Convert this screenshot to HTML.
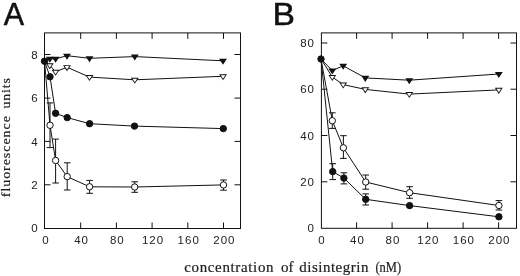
<!DOCTYPE html>
<html><head><meta charset="utf-8"><title>figure</title>
<style>
html,body{margin:0;padding:0;background:#fff;}
body{width:520px;height:276px;overflow:hidden;}
svg{display:block;filter:grayscale(1);}
.t text{font-family:"Liberation Sans",sans-serif;font-size:11.5px;fill:#222;letter-spacing:1.0px;}
.big{font-family:"Liberation Sans",sans-serif;font-size:32px;fill:#111;stroke:#111;stroke-width:0.5px;}
.lab{font-family:"Liberation Serif",serif;fill:#222;stroke:#222;stroke-width:0.2px;}
</style></head><body>
<svg width="520" height="276" viewBox="0 0 520 276">
<rect width="520" height="276" fill="#fff"/>
<g shape-rendering="geometricPrecision">
<rect x="44.5" y="32.9" width="196.0" height="195.6" fill="none" stroke="#111" stroke-width="1"/><path d="M80.7,228.5v-6M80.7,32.9v6M116.4,228.5v-6M116.4,32.9v6M152.1,228.5v-6M152.1,32.9v6M187.8,228.5v-6M187.8,32.9v6M223.5,228.5v-6M223.5,32.9v6M44.5,184.8h6M240.5,184.8h-6M44.5,141.4h6M240.5,141.4h-6M44.5,98.1h6M240.5,98.1h-6M44.5,54.5h6M240.5,54.5h-6" stroke="#111" stroke-width="1" fill="none"/>
<rect x="321.4" y="32.9" width="195.10000000000002" height="195.4" fill="none" stroke="#111" stroke-width="1"/><path d="M356.6,228.3v-6M356.6,32.9v6M392.1,228.3v-6M392.1,32.9v6M427.6,228.3v-6M427.6,32.9v6M463.1,228.3v-6M463.1,32.9v6M498.6,228.3v-6M498.6,32.9v6M321.4,181.8h6M516.5,181.8h-6M321.4,135.5h6M516.5,135.5h-6M321.4,89.2h6M516.5,89.2h-6M321.4,43.0h6M516.5,43.0h-6" stroke="#111" stroke-width="1" fill="none"/>
<polyline points="44.5,61.0 49.8,58.8 55.6,58.8 67.0,55.7 89.5,58.3 134.8,56.6 223.0,60.8" fill="none" stroke="#111" stroke-width="1"/>
<polyline points="44.5,61.0 49.8,65.3 55.6,71.8 67.0,67.2 89.5,77.1 134.8,79.8 223.0,76.3" fill="none" stroke="#111" stroke-width="1"/>
<polyline points="44.5,61.2 50.0,76.8 55.6,113.3 67.2,117.6 89.6,123.7 134.5,126.1 223.3,128.6" fill="none" stroke="#111" stroke-width="1"/>
<polyline points="44.5,61.0 50.0,125.3 55.6,160.5 67.2,176.6 89.6,186.8 134.7,187.0 223.5,184.9" fill="none" stroke="#111" stroke-width="1"/>
<path d="M50.0,102.9V147.6M46.7,102.9H53.3M46.7,147.6H53.3" stroke="#111" stroke-width="1" fill="none"/>
<path d="M55.6,139.1V183.0M52.3,139.1H58.9M52.3,183.0H58.9" stroke="#111" stroke-width="1" fill="none"/>
<path d="M67.2,162.8V190.0M63.9,162.8H70.5M63.9,190.0H70.5" stroke="#111" stroke-width="1" fill="none"/>
<path d="M89.6,180.4V193.3M86.3,180.4H92.9M86.3,193.3H92.9" stroke="#111" stroke-width="1" fill="none"/>
<path d="M134.7,181.8V192.3M131.4,181.8H138.0M131.4,192.3H138.0" stroke="#111" stroke-width="1" fill="none"/>
<path d="M223.5,180.0V190.2M220.2,180.0H226.8M220.2,190.2H226.8" stroke="#111" stroke-width="1" fill="none"/>
<polygon points="45.85,56.75 53.75,56.75 49.80,62.80" fill="#111"/>
<polygon points="51.65,56.75 59.55,56.75 55.60,62.80" fill="#111"/>
<polygon points="63.05,53.65 70.95,53.65 67.00,59.70" fill="#111"/>
<polygon points="85.55,56.25 93.45,56.25 89.50,62.30" fill="#111"/>
<polygon points="130.85,54.55 138.75,54.55 134.80,60.60" fill="#111"/>
<polygon points="219.05,58.75 226.95,58.75 223.00,64.80" fill="#111"/>
<polygon points="45.85,63.25 53.75,63.25 49.80,69.30" fill="#111"/><polygon points="47.50,64.15 52.10,64.15 49.80,67.65" fill="#fff"/>
<polygon points="51.65,69.75 59.55,69.75 55.60,75.80" fill="#111"/><polygon points="53.30,70.65 57.90,70.65 55.60,74.15" fill="#fff"/>
<polygon points="63.05,65.15 70.95,65.15 67.00,71.20" fill="#111"/><polygon points="64.70,66.05 69.30,66.05 67.00,69.55" fill="#fff"/>
<polygon points="85.55,75.05 93.45,75.05 89.50,81.10" fill="#111"/><polygon points="87.20,75.95 91.80,75.95 89.50,79.45" fill="#fff"/>
<polygon points="130.85,77.75 138.75,77.75 134.80,83.80" fill="#111"/><polygon points="132.50,78.65 137.10,78.65 134.80,82.15" fill="#fff"/>
<polygon points="219.05,74.25 226.95,74.25 223.00,80.30" fill="#111"/><polygon points="220.70,75.15 225.30,75.15 223.00,78.65" fill="#fff"/>
<circle cx="50.0" cy="125.3" r="3.2" fill="#fff" stroke="#111" stroke-width="1"/>
<circle cx="55.6" cy="160.5" r="3.2" fill="#fff" stroke="#111" stroke-width="1"/>
<circle cx="67.2" cy="176.6" r="3.2" fill="#fff" stroke="#111" stroke-width="1"/>
<circle cx="89.6" cy="186.8" r="3.2" fill="#fff" stroke="#111" stroke-width="1"/>
<circle cx="134.7" cy="187.0" r="3.2" fill="#fff" stroke="#111" stroke-width="1"/>
<circle cx="223.5" cy="184.9" r="3.2" fill="#fff" stroke="#111" stroke-width="1"/>
<circle cx="44.5" cy="61.2" r="3.2" fill="#111" stroke="#111" stroke-width="1"/>
<circle cx="50.0" cy="76.8" r="3.2" fill="#111" stroke="#111" stroke-width="1"/>
<circle cx="55.6" cy="113.3" r="3.2" fill="#111" stroke="#111" stroke-width="1"/>
<circle cx="67.2" cy="117.6" r="3.2" fill="#111" stroke="#111" stroke-width="1"/>
<circle cx="89.6" cy="123.7" r="3.2" fill="#111" stroke="#111" stroke-width="1"/>
<circle cx="134.5" cy="126.1" r="3.2" fill="#111" stroke="#111" stroke-width="1"/>
<circle cx="223.3" cy="128.6" r="3.2" fill="#111" stroke="#111" stroke-width="1"/>
<polyline points="321.0,59.0 332.3,70.6 343.2,65.8 365.3,77.9 409.3,80.2 498.8,74.0" fill="none" stroke="#111" stroke-width="1"/>
<polyline points="321.0,59.0 332.3,77.1 343.2,84.6 365.3,89.4 409.3,94.1 498.8,89.9" fill="none" stroke="#111" stroke-width="1"/>
<polyline points="321.0,59.0 332.3,120.7 343.4,147.8 365.7,182.0 409.6,192.7 498.9,205.5" fill="none" stroke="#111" stroke-width="1"/>
<polyline points="321.0,59.0 332.7,171.6 343.9,178.1 365.7,199.3 409.6,205.6 498.9,216.8" fill="none" stroke="#111" stroke-width="1"/>
<path d="M332.3,112.8V128.4M329.0,112.8H335.6M329.0,128.4H335.6" stroke="#111" stroke-width="1" fill="none"/>
<path d="M343.4,135.7V158.4M340.1,135.7H346.7M340.1,158.4H346.7" stroke="#111" stroke-width="1" fill="none"/>
<path d="M365.7,175.0V189.2M362.4,175.0H369.0M362.4,189.2H369.0" stroke="#111" stroke-width="1" fill="none"/>
<path d="M409.6,186.7V198.3M406.3,186.7H412.9M406.3,198.3H412.9" stroke="#111" stroke-width="1" fill="none"/>
<path d="M498.9,200.6V210.0M495.6,200.6H502.2M495.6,210.0H502.2" stroke="#111" stroke-width="1" fill="none"/>
<path d="M332.7,163.7V179.6M329.4,163.7H336.0M329.4,179.6H336.0" stroke="#111" stroke-width="1" fill="none"/>
<path d="M343.9,172.8V183.9M340.6,172.8H347.2M340.6,183.9H347.2" stroke="#111" stroke-width="1" fill="none"/>
<path d="M365.7,193.9V205.0M362.4,193.9H369.0M362.4,205.0H369.0" stroke="#111" stroke-width="1" fill="none"/>
<polygon points="328.35,68.55 336.25,68.55 332.30,74.60" fill="#111"/>
<polygon points="339.25,63.75 347.15,63.75 343.20,69.80" fill="#111"/>
<polygon points="361.35,75.85 369.25,75.85 365.30,81.90" fill="#111"/>
<polygon points="405.35,78.15 413.25,78.15 409.30,84.20" fill="#111"/>
<polygon points="494.85,71.95 502.75,71.95 498.80,78.00" fill="#111"/>
<polygon points="328.35,75.05 336.25,75.05 332.30,81.10" fill="#111"/><polygon points="330.00,75.95 334.60,75.95 332.30,79.45" fill="#fff"/>
<polygon points="339.25,82.55 347.15,82.55 343.20,88.60" fill="#111"/><polygon points="340.90,83.45 345.50,83.45 343.20,86.95" fill="#fff"/>
<polygon points="361.35,87.35 369.25,87.35 365.30,93.40" fill="#111"/><polygon points="363.00,88.25 367.60,88.25 365.30,91.75" fill="#fff"/>
<polygon points="405.35,92.05 413.25,92.05 409.30,98.10" fill="#111"/><polygon points="407.00,92.95 411.60,92.95 409.30,96.45" fill="#fff"/>
<polygon points="494.85,87.85 502.75,87.85 498.80,93.90" fill="#111"/><polygon points="496.50,88.75 501.10,88.75 498.80,92.25" fill="#fff"/>
<circle cx="332.3" cy="120.7" r="3.2" fill="#fff" stroke="#111" stroke-width="1"/>
<circle cx="343.4" cy="147.8" r="3.2" fill="#fff" stroke="#111" stroke-width="1"/>
<circle cx="365.7" cy="182.0" r="3.2" fill="#fff" stroke="#111" stroke-width="1"/>
<circle cx="409.6" cy="192.7" r="3.2" fill="#fff" stroke="#111" stroke-width="1"/>
<circle cx="498.9" cy="205.5" r="3.2" fill="#fff" stroke="#111" stroke-width="1"/>
<circle cx="321.0" cy="59.0" r="3.2" fill="#111" stroke="#111" stroke-width="1"/>
<circle cx="332.7" cy="171.6" r="3.2" fill="#111" stroke="#111" stroke-width="1"/>
<circle cx="343.9" cy="178.1" r="3.2" fill="#111" stroke="#111" stroke-width="1"/>
<circle cx="365.7" cy="199.3" r="3.2" fill="#111" stroke="#111" stroke-width="1"/>
<circle cx="409.6" cy="205.6" r="3.2" fill="#111" stroke="#111" stroke-width="1"/>
<circle cx="498.9" cy="216.8" r="3.2" fill="#111" stroke="#111" stroke-width="1"/>
</g>
<g class="t">
<text x="45.9" y="244.2" text-anchor="middle" >0</text>
<text x="321.9" y="244.2" text-anchor="middle" >0</text>
<text x="81.6" y="244.2" text-anchor="middle" >40</text>
<text x="357.4" y="244.2" text-anchor="middle" >40</text>
<text x="117.3" y="244.2" text-anchor="middle" >80</text>
<text x="392.9" y="244.2" text-anchor="middle" >80</text>
<text x="153.0" y="244.2" text-anchor="middle" >120</text>
<text x="428.4" y="244.2" text-anchor="middle" >120</text>
<text x="188.7" y="244.2" text-anchor="middle" >160</text>
<text x="463.9" y="244.2" text-anchor="middle" >160</text>
<text x="224.4" y="244.2" text-anchor="middle" >200</text>
<text x="499.4" y="244.2" text-anchor="middle" >200</text>
<text x="38.6" y="232.3" text-anchor="end" >0</text>
<text x="38.6" y="188.9" text-anchor="end" >2</text>
<text x="38.6" y="145.5" text-anchor="end" >4</text>
<text x="38.6" y="102.2" text-anchor="end" >6</text>
<text x="38.6" y="58.6" text-anchor="end" >8</text>
<text x="315" y="232.1" text-anchor="end" >0</text>
<text x="315" y="185.9" text-anchor="end" >20</text>
<text x="315" y="139.6" text-anchor="end" >40</text>
<text x="315" y="93.3" text-anchor="end" >60</text>
<text x="315" y="47.1" text-anchor="end" >80</text>
</g>
<text class="big" x="3.7" y="24.7" textLength="20.3" lengthAdjust="spacingAndGlyphs">A</text>
<text class="big" x="272.6" y="24.9" textLength="22.5" lengthAdjust="spacingAndGlyphs">B</text>
<g class="lab" font-size="14.4" transform="scale(1.04,1)">
<text x="177.21" y="271.6" textLength="85.77" lengthAdjust="spacing">concentration</text>
<text x="270.19" y="271.6" textLength="11.92" lengthAdjust="spacing">of</text>
<text x="287.79" y="271.6" textLength="66.44" lengthAdjust="spacing">disintegrin</text>
<text x="360.96" y="271.6" textLength="24.81" lengthAdjust="spacingAndGlyphs">(nM)</text>
</g>
<g class="lab" font-size="12" style="stroke-width:0.18px" transform="translate(10.0,0) rotate(-90) scale(1.16,1)">
<text x="-170.00" y="0" textLength="69.83" lengthAdjust="spacing">fluorescence</text>
<text x="-93.45" y="0" textLength="26.03" lengthAdjust="spacing">units</text>
</g>
</svg>
</body></html>
